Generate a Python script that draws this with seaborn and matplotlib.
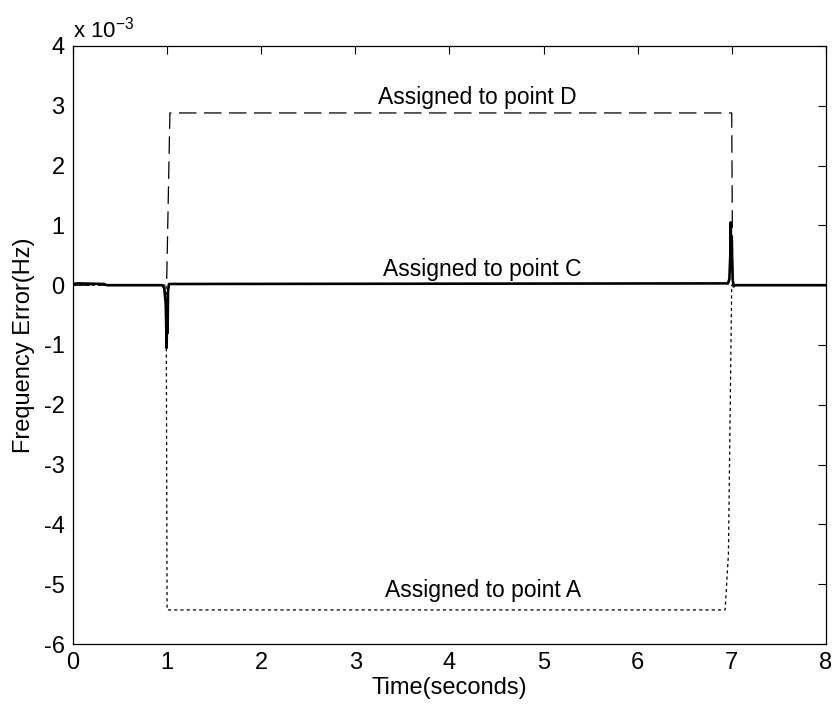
import numpy as np
import pandas as pd
import matplotlib
matplotlib.use("Agg")
import matplotlib.pyplot as plt
import seaborn as sns

# ---- data (values in units of 1e-3 Hz) ----
t_D = [0.0, 0.995, 1.03, 7.0, 7.01, 8.0]
v_D = [0.0, 0.0, 2.88, 2.88, 0.0, 0.0]

t_A = [0.0, 0.99, 1.0, 6.93, 6.965, 7.0, 8.0]
v_A = [0.0, 0.0, -5.43, -5.43, -4.5, 0.0, 0.0]

t_C = [0.0, 0.05, 0.33, 0.36, 0.95, 0.97, 0.985, 0.99, 0.995, 1.0, 1.005, 1.01, 1.02,
       1.04, 6.96, 6.975, 6.985, 6.99, 6.995, 7.0, 7.01, 7.02, 7.04, 8.0]
v_C = [0.02, 0.03, 0.02, 0.0, 0.0, -0.05, -0.3, -0.6, -1.05, -0.4, -0.8, -0.1, 0.02,
       0.02, 0.03, 0.1, 0.5, 1.05, 0.3, 0.8, 0.1, -0.02, 0.0, 0.0]

x_ticks = [0, 1, 2, 3, 4, 5, 6, 7, 8]
y_ticks = [-6, -5, -4, -3, -2, -1, 0, 1, 2, 3, 4]

labels = ["Assigned to point D", "Assigned to point C", "Assigned to point A"]
label_x = [4.30, 4.35, 4.36]
label_y = [3.03, 0.15, -5.22]

# ---- figure ----
sns.set_style("white")
plt.rcParams['font.family'] = ['Liberation Sans', 'DejaVu Sans']
plt.rcParams['mathtext.fontset'] = 'custom'
plt.rcParams['mathtext.rm'] = 'Liberation Sans'

fig = plt.figure(figsize=(8.35, 7.04), dpi=100)
ax = fig.add_axes([0.0874, 0.0852, 0.9016, 0.8495])

dfD = pd.DataFrame({"t": t_D, "v": v_D})
dfA = pd.DataFrame({"t": t_A, "v": v_A})
dfC = pd.DataFrame({"t": t_C, "v": v_C})

sns.lineplot(data=dfD, x="t", y="v", ax=ax, color="k", lw=0.9,
             estimator=None, sort=False)
ax.lines[-1].set_dashes((14, 6))
sns.lineplot(data=dfA, x="t", y="v", ax=ax, color="k", lw=0.9,
             estimator=None, sort=False)
ax.lines[-1].set_dashes((2.5, 2.5))
sns.lineplot(data=dfC, x="t", y="v", ax=ax, color="k", lw=1.9,
             estimator=None, sort=False)

for s, xx, yy in zip(labels, label_x, label_y):
    ax.text(xx, yy, s, ha="center", va="baseline", fontsize=16.5, color="k")

ax.set_xlim(0, 8)
ax.set_ylim(-6, 4)
ax.set_xticks(x_ticks)
ax.set_yticks(y_ticks)
ax.set_xticklabels([str(v) for v in x_ticks])
ax.set_yticklabels([str(v) for v in y_ticks])
ax.tick_params(direction="in", length=6, width=0.8, top=True, right=True,
               labelsize=17, colors="k", pad=6)
for sp in ax.spines.values():
    sp.set_visible(True)
    sp.set_color("k")
    sp.set_linewidth(0.9)

ax.set_xlabel("Time(seconds)", fontsize=17, labelpad=2, color="k")
ax.set_ylabel("Frequency Error(Hz)", fontsize=17, labelpad=6, color="k")

ax.text(0.0, 1.006, r"x 10$^{\mathregular{-3}}$", transform=ax.transAxes,
        ha="left", va="bottom", fontsize=16, color="k")

fig.savefig("out.png", dpi=100, facecolor="white")
